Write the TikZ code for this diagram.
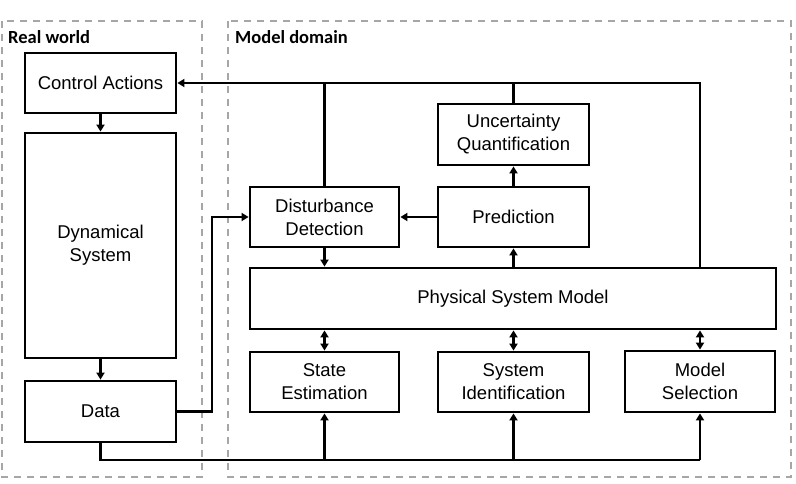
\documentclass[tikz,border=0pt]{standalone}
\usepackage{fontspec}
\setmainfont{Liberation Sans}
\newfontfamily\lblfont{Carlito}
\usetikzlibrary{arrows.meta}

\begin{document}
\begin{tikzpicture}[x=1pt, y=-1pt]
        \tikzset{box/.style={draw, line width=2.8pt, align=center, inner sep=0pt,
                    font=\fontsize{18.5}{23}\selectfont},
                 frame/.style={draw=black!35, line width=1.8pt, dash pattern=on 7pt off 6pt},
                 lbl/.style={anchor=west, inner sep=0pt, font=\lblfont\bfseries\fontsize{18.5}{22}\selectfont},
                 arr/.style={line width=2.8pt, -{Triangle[length=7pt, width=8pt]}},
                 dbl/.style={line width=2.8pt, {Triangle[length=7pt, width=8pt]}-{Triangle[length=7pt, width=8pt]}},
                 wire/.style={line width=2.8pt}}
        \useasboundingbox (0,0) rectangle (796,484);
        % dashed regions
        \draw[frame] (2,21) rectangle (202,477);
        \draw[frame] (228,21) rectangle (791,477);
        \node[lbl] (realLbl) at (8,37) {Real world};
        \node[lbl] (modelLbl) at (235,37) {Model domain};
        % real world
        \node[box, minimum width=151pt, minimum height=60pt] (ctrl) at (100.5,83) {Control Actions};
        \node[box, minimum width=151pt, minimum height=225pt] (dyn) at (100.5,245.5) {Dynamical\\System};
        \node[box, minimum width=151pt, minimum height=61pt] (data) at (100.5,411.5) {Data};
        % model domain
        \node[box, minimum width=149pt, minimum height=60pt] (dist) at (324.5,217) {Disturbance\\Detection};
        \node[box, minimum width=151pt, minimum height=60pt] (pred) at (513.5,217) {Prediction};
        \node[box, minimum width=151pt, minimum height=61pt] (unc) at (513.5,134.5) {Uncertainty\\Quantification};
        \node[box, minimum width=526pt, minimum height=61pt] (phys) at (513,298.5) {Physical System Model};
        \node[box, minimum width=149pt, minimum height=60pt] (state) at (324.5,382) {State\\Estimation};
        \node[box, minimum width=151pt, minimum height=60pt] (sysid) at (513.5,382) {System\\Identification};
        \node[box, minimum width=150pt, minimum height=61pt] (modsel) at (700,381.5) {Model\\Selection};
        \coordinate (bend) at (212,0);
        \coordinate (bus) at (0,460);
        % connectors
        \draw[arr] (ctrl) -- (dyn);
        \draw[arr] (dyn) -- (data);
        \draw[arr] (data.east) -- (data.east -| bend) |- (dist.west);
        \draw[arr] (phys.north -| modsel.north) |- (ctrl.east);
        \draw[wire] (dist.north) -- (dist.north |- ctrl.east);
        \draw[wire] (unc.north) -- (unc.north |- ctrl.east);
        \draw[arr] (pred) -- (unc);
        \draw[arr] (pred) -- (dist);
        \draw[arr] (dist.south) -- (dist.south |- phys.north);
        \draw[arr] (phys.north -| pred.south) -- (pred.south);
        \draw[dbl] (phys.south -| state.north) -- (state.north);
        \draw[dbl] (phys.south -| sysid.north) -- (sysid.north);
        \draw[dbl] (phys.south -| modsel.north) -- (modsel.north);
        \draw[wire] (data.south) |- (modsel.south |- bus);
        \draw[arr] (state.south |- bus) -- (state.south);
        \draw[arr] (sysid.south |- bus) -- (sysid.south);
        \draw[arr] (modsel.south |- bus) -- (modsel.south);
\end{tikzpicture}
\end{document}
